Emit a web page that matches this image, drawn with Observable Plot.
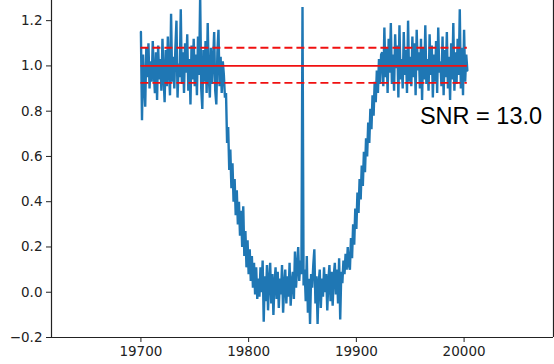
<!DOCTYPE html>
<html>
<head>
<meta charset="utf-8">
<script src="https://cdn.jsdelivr.net/npm/d3@7"></script>
<script src="https://cdn.jsdelivr.net/npm/@observablehq/plot@0.6"></script>
<style>
  html, body { margin: 0; padding: 0; background: #fff; }
  #chart { width: 554px; height: 364px; overflow: hidden; }
</style>
</head>
<body>
<div id="chart"></div>
<script>
// time of first sample (one sample per time unit)
const timeStart = 19700;

// out-of-transit before ingress (19700–19778)
const fluxPre = [
  1.15, 0.76, 1.05, 0.92, 0.82, 1.08, 0.95, 1.10, 0.90, 1.02,
  0.93, 1.11, 0.97, 0.88, 1.06, 0.85, 1.09, 0.94, 1.03, 0.89,
  1.12, 0.96, 0.84, 1.07, 0.91, 1.13, 0.98, 0.87, 1.23, 0.93,
  1.04, 0.90, 1.08, 1.20, 0.86, 1.01, 0.95, 1.25, 0.92, 1.06,
  0.88, 1.10, 0.97, 1.14, 0.89, 1.03, 0.83, 1.09, 0.94, 1.12,
  0.91, 1.05, 0.87, 1.13, 0.96, 1.31, 0.90, 0.81, 1.07, 0.93,
  1.11, 0.88, 1.19, 0.95, 0.86, 1.08, 0.92, 1.02, 1.15, 0.89,
  0.83, 1.06, 1.16, 0.91, 1.04, 0.88, 1.02, 0.96, 0.86
];
// ingress (19779–19808)
const fluxIngress = [
  0.88, 0.66, 0.73, 0.54, 0.63, 0.46, 0.57, 0.40, 0.50, 0.34,
  0.45, 0.30, 0.40, 0.25, 0.36, 0.20, 0.38, 0.16, 0.27, 0.11,
  0.23, 0.08, 0.19, 0.05, 0.16, 0.02, 0.13, -0.01, 0.11, -0.03
];
// transit bottom (19809–19893)
const fluxBottom = [
  0.06, -0.02, 0.11, 0.00, 0.14, -0.13, 0.07, -0.04, 0.12, -0.08,
  0.05, 0.13, -0.05, 0.08, -0.10, 0.04, 0.11, -0.03, 0.09, -0.07,
  0.06, -0.01, 0.12, -0.09, 0.03, 0.10, -0.05, 0.07, -0.02, 0.13,
  -0.06, 0.04, 0.09, -0.03, 0.18, 0.02, 0.11, 0.20, 0.05, 0.14,
  0.08, 1.26, 0.03, 0.10, -0.04, 0.16, -0.09, 0.06, -0.14, 0.08,
  0.02, 0.12, 0.19, -0.05, 0.07, -0.14, 0.04, 0.10, -0.07, 0.06,
  -0.02, 0.11, 0.00, 0.08, -0.08, 0.05, 0.12, -0.04, 0.09, -0.06,
  0.07, 0.13, -0.01, 0.10, -0.05, 0.15, -0.12, 0.09, 0.04, 0.14,
  0.08, 0.17, 0.10, 0.20, 0.12
];
// egress (19894–19923)
const fluxEgress = [
  0.10, 0.24, 0.15, 0.30, 0.21, 0.37, 0.28, 0.44, 0.35, 0.50,
  0.41, 0.56, 0.47, 0.62, 0.53, 0.68, 0.60, 0.75, 0.66, 0.81,
  0.72, 0.87, 0.78, 0.93, 0.84, 0.98, 0.88, 1.03, 0.92, 1.05
];
// out-of-transit after egress (19924–20003)
const fluxPost = [
  1.06, 0.91, 1.17, 0.95, 1.08, 0.88, 1.12, 0.97, 1.19, 0.92,
  1.05, 0.89, 1.14, 0.99, 1.09, 0.86, 1.18, 0.94, 1.03, 0.90,
  1.15, 0.96, 1.07, 0.88, 1.20, 0.93, 1.04, 0.91, 1.13, 0.95,
  1.10, 0.87, 1.16, 0.98, 1.06, 0.90, 1.12, 0.85, 1.08, 0.94,
  1.18, 0.92, 1.03, 0.89, 1.14, 0.96, 1.09, 0.86, 1.05, 0.93,
  1.11, 0.88, 1.17, 0.97, 1.02, 0.91, 1.13, 0.87, 1.07, 0.95,
  1.15, 0.90, 1.04, 0.85, 1.10, 0.94, 1.19, 0.89, 1.06, 0.92,
  1.12, 0.96, 1.25, 0.90, 1.08, 0.87, 1.16, 0.93, 1.05, 0.98
];

// reference levels: mean and ±1 sigma
const levelMean = 1.0;
const levelUpper = 1.08;
const levelLower = 0.925;
const levelStart = 19700;
const levelEnd = 20003;

const xTicks = [19700, 19800, 19900, 20000];
const yTicks = [-0.2, 0.0, 0.2, 0.4, 0.6, 0.8, 1.0, 1.2];
const xDomain = [19617, 20083];
const yDomain = [-0.2, 1.289];

const snrLabel = "SNR = 13.0";
const snrPos = {x: 19959, y: 0.742};

const flux = [...fluxPre, ...fluxIngress, ...fluxBottom, ...fluxEgress, ...fluxPost];
const series = flux.map((f, i) => ({t: timeStart + i, f}));

const levels = [
  {y: levelMean, dash: null},
  {y: levelUpper, dash: "8,4"},
  {y: levelLower, dash: "8,4"}
];

const chart = Plot.plot({
  width: 554,
  height: 364,
  marginLeft: 51,
  marginRight: 1,
  marginTop: 0,
  marginBottom: 27,
  style: {fontFamily: "DejaVu Sans", fontSize: "13.5px", color: "#222", background: "#fff"},
  x: {domain: xDomain, label: null},
  y: {domain: yDomain, label: null},
  marks: [
    Plot.line(series, {x: "t", y: "f", stroke: "#1f77b4", strokeWidth: 2.4, strokeLinejoin: "miter", clip: true}),
    ...levels.map(l => Plot.ruleY([l.y], {x1: levelStart, x2: levelEnd, stroke: "#f01010", strokeWidth: 1.9, strokeDasharray: l.dash})),
    Plot.text([snrLabel], {x: snrPos.x, y: snrPos.y, text: d => d, textAnchor: "start", lineAnchor: "bottom", fontSize: 23.5, fontFamily: "Liberation Sans", fill: "#000"}),
    Plot.ruleX([xDomain[0], xDomain[1]], {stroke: "#222", strokeWidth: 1.2}),
    Plot.ruleY([yDomain[0]], {stroke: "#222", strokeWidth: 1.2}),
    Plot.axisX({ticks: xTicks, tickFormat: d3.format("d"), tickSize: 5, tickPadding: 4, fontSize: 13.5, label: null}),
    Plot.axisY({ticks: yTicks, tickFormat: d3.format(".1f"), tickSize: 5, tickPadding: 4, fontSize: 13.5, label: null})
  ]
});
document.getElementById("chart").appendChild(chart);
</script>
</body>
</html>
